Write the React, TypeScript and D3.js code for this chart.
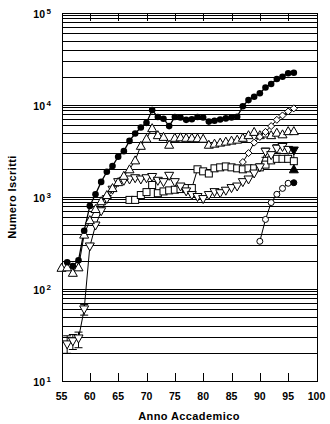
import React from 'react';
import * as d3 from 'd3';

const W = 330;
const H = 424;

const xTicks = [55, 60, 65, 70, 75, 80, 85, 90, 95, 100];
const yExponents = [1, 2, 3, 4, 5];
const gridMultipliers = [2, 3, 4, 5, 6, 7, 8, 8.8, 9.4];

// filled circles
const yearsA = [56,57,58,59,60,61,62,63,64,65,66,67,68,69,70,71,72,73,74,75,76,77,78,79,80,81,82,83,84,85,86,87,88,89,90,91,92,93,94,95,96];
const valsA = [195,178,205,430,800,1070,1460,1880,2170,2740,3150,4070,4900,5700,6400,8800,7400,7100,5900,7400,7300,6900,7000,7400,7300,6600,6750,6950,7150,7300,7450,9700,11300,12300,13400,15500,16900,19200,20300,22100,22400];

// open triangles up
const yearsB = [55,56,57,58,59,60,61,62,63,64,65,66,67,68,69,70,71,72,73,74,75,76,77,78,79,80,81,82,83,84,85,86,87,88,89,90,91,92,93,94,95,96];
const valsB = [170,172,150,172,390,560,740,900,1050,1250,1450,1700,2000,2500,3600,4300,5600,4700,4500,3700,4400,4450,4400,4400,4350,4300,3700,3800,3900,4000,4100,4200,4400,4700,5100,4700,4900,4700,5000,4800,5200,5200];

// open triangles down
const yearsC = [56,57,58,59,60,61,62,63,64,65,66,67,68,69,70,71,72,73,74,75,76,77,78,79,80,81,82,83,84,85,86,87,88,89,90,91,92,93,94,95];
const valsC = [25,27,29,60,290,490,700,950,1200,1450,1500,1550,1600,1550,1600,1650,1500,1450,1700,1450,1300,1150,1050,1000,950,1050,1130,1100,1170,1250,1300,1450,1550,1800,2100,3100,2850,3350,3500,3250];
const errYearsC = [56, 57, 58, 59, 91, 93];
const errLowC = [20, 22, 23, 52, 2700, 3000];
const errHighC = [31, 32, 34, 68, 3400, 3700];

// open squares
const yearsD = [67,68,69,70,71,72,73,74,75,76,77,78,79,80,81,82,83,84,85,86,87,88,89,90,91,92,93,94,95,96];
const valsD = [930,930,1050,1130,1350,1100,1150,1180,1200,1220,1250,1250,2000,1900,1800,2050,2100,2150,2100,2050,2000,2050,2050,2100,2250,2500,2600,2600,2600,2450];

// open diamonds
const yearsE = [87,88,89,90,91,92,93,94,95,96];
const valsE = [2400,3000,3900,4500,5100,5900,6900,7700,8500,9200];

// open circles (last one filled)
const yearsF = [90,91,92,93,94,95,96];
const valsF = [330,570,870,1070,1240,1410,1430];

// 1996 range: filled triangles
const rangeYear = 96;
const rangeLow = 2000;
const rangeHigh = 3200;

const FONT = '"Liberation Sans", Arial, sans-serif';

export default function App() {
  const x = d3.scaleLinear().domain([55, 100]).range([61.5, 316.5]);
  const y = d3.scaleLog().domain([10, 100000]).range([381, 13]);

  const line = d3.line<[number, number]>().x(d => x(d[0])).y(d => y(d[1]));
  const zip = (a: number[], b: number[]) => a.map((v, i) => [v, b[i]] as [number, number]);

  const gridVals: number[] = [];
  yExponents.slice(0, -1).forEach(e => gridMultipliers.forEach(m => gridVals.push(m * Math.pow(10, e))));

  const px = (v: number) => Math.round(v) + 0.5;

  const triUp = (cx: number, cy: number, k: string, fill = 'white') => (
    <path key={k} d={`M${cx},${cy - 4.5}L${cx + 4.5},${cy + 3.5}L${cx - 4.5},${cy + 3.5}Z`} fill={fill} stroke="black" strokeWidth={1} />
  );
  const triDown = (cx: number, cy: number, k: string, fill = 'white') => (
    <path key={k} d={`M${cx},${cy + 4.5}L${cx + 4.5},${cy - 3.5}L${cx - 4.5},${cy - 3.5}Z`} fill={fill} stroke="black" strokeWidth={1} />
  );

  const xl = x.range()[0], xr = x.range()[1];
  const yt = y.range()[1], yb = y.range()[0];

  return (
    <svg width={W} height={H} style={{ position: 'absolute', left: 0, top: 0, background: 'white' }} fontFamily={FONT}>
      <rect x={0} y={0} width={W} height={H} fill="white" />
      <g shapeRendering="crispEdges">
        {gridVals.map((v, i) => (
          <line key={'g' + i} x1={xl} x2={xr} y1={px(y(v))} y2={px(y(v))} stroke="black" strokeWidth={1} />
        ))}
        {yExponents.map(e => (
          <line key={'d' + e} x1={xl} x2={xr} y1={px(y(Math.pow(10, e)))} y2={px(y(Math.pow(10, e)))} stroke="black" strokeWidth={1} />
        ))}
        {xTicks.slice(1, -1).map(t => (
          <g key={'t' + t}>
            <line x1={px(x(t))} x2={px(x(t))} y1={yb} y2={yb - 8} stroke="black" />
            <line x1={px(x(t))} x2={px(x(t))} y1={yt} y2={yt + 8} stroke="black" />
          </g>
        ))}
        <rect x={px(xl)} y={px(yt)} width={Math.round(xr - xl)} height={Math.round(yb - yt)} fill="none" stroke="black" strokeWidth={1.2} />
      </g>

      {/* lines */}
      <g fill="none" stroke="black" strokeWidth={1}>
        <path d={line(zip(yearsA, valsA)) || ''} strokeWidth={1.3} />
        <path d={line(zip(yearsB, valsB)) || ''} />
        <path d={line(zip(yearsC, valsC)) || ''} />
        <path d={line(zip(yearsD, valsD)) || ''} />
        <path d={line(zip(yearsE, valsE)) || ''} />
        <path d={line(zip(yearsF, valsF)) || ''} />
        <line x1={x(rangeYear)} x2={x(rangeYear)} y1={y(rangeLow)} y2={y(rangeHigh)} />
      </g>

      {/* error bars */}
      <g stroke="black" strokeWidth={1}>
        {errYearsC.map((yr, i) => (
          <g key={'e' + i}>
            <line x1={x(yr)} x2={x(yr)} y1={y(errLowC[i])} y2={y(errHighC[i])} />
            <line x1={x(yr) - 4} x2={x(yr) + 4} y1={y(errLowC[i])} y2={y(errLowC[i])} />
            <line x1={x(yr) - 4} x2={x(yr) + 4} y1={y(errHighC[i])} y2={y(errHighC[i])} />
          </g>
        ))}
      </g>

      {/* markers */}
      <g>
        {yearsD.map((yr, i) => (
          <rect key={'sq' + i} x={x(yr) - 3.5} y={y(valsD[i]) - 3.5} width={7} height={7} fill="white" stroke="black" />
        ))}
        {yearsC.map((yr, i) => triDown(x(yr), y(valsC[i]), 'cd' + i))}
        {yearsB.map((yr, i) => triUp(x(yr), y(valsB[i]), 'bu' + i))}
        {yearsE.map((yr, i) => {
          const cx = x(yr), cy = y(valsE[i]);
          return <path key={'di' + i} d={`M${cx},${cy - 3.5}L${cx + 3.5},${cy}L${cx},${cy + 3.5}L${cx - 3.5},${cy}Z`} fill="white" stroke="black" />;
        })}
        {yearsF.map((yr, i) => (
          <circle key={'oc' + i} cx={x(yr)} cy={y(valsF[i])} r={3} fill={i === yearsF.length - 1 ? 'black' : 'white'} stroke="black" />
        ))}
        {yearsA.map((yr, i) => (
          <circle key={'fc' + i} cx={x(yr)} cy={y(valsA[i])} r={3.3} fill="black" />
        ))}
        {triUp(x(rangeYear), y(rangeLow), 'rl', 'black')}
        {triDown(x(rangeYear), y(rangeHigh), 'rh', 'black')}
      </g>

      {/* y labels */}
      {yExponents.map(e => (
        <g key={'yl' + e}>
          <text x={45} y={y(Math.pow(10, e)) + 5} textAnchor="end" fontSize={10.5} fontWeight="bold">10</text>
          <text x={46.5} y={y(Math.pow(10, e)) + 0.5} fontSize={8} fontWeight="bold">{e}</text>
        </g>
      ))}

      {/* x labels */}
      {xTicks.map(t => (
        <text key={'xl' + t} x={x(t)} y={400} textAnchor="middle" fontSize={10.5} fontWeight="bold">{t}</text>
      ))}

      <text x={(xl + xr) / 2} y={420} textAnchor="middle" fontSize={11} fontWeight="bold" letterSpacing={0.4}>Anno Accademico</text>
      <text transform={`translate(16,${(yt + yb) / 2}) rotate(-90)`} textAnchor="middle" fontSize={11} fontWeight="bold" letterSpacing={0.4}>Numero Iscritti</text>
    </svg>
  );
}
